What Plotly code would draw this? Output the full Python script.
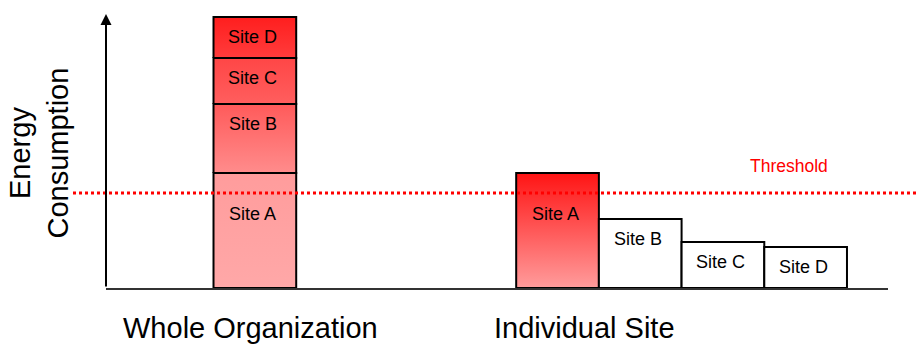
import plotly.graph_objects as go

# ---- data ----
sites = ["Site A", "Site B", "Site C", "Site D"]
consumption = [115, 69, 46, 41]
threshold = 95
group_labels = ["Whole Organization", "Individual Site"]
y_title = "Energy<br>Consumption"
threshold_label = "Threshold"

# ---- layout / style ----
whole_x = 1.80
indiv_x = [5.46, 6.46, 7.46, 8.46]
bar_w = 1.0
x_range = [0, 9.456]
y_range = [0, 274]
FONT = "Liberation Sans, Arial, sans-serif"

stack_colors = [("#ffa8a8", "#ff9c9c"), ("#ff8c8c", "#ff5a5a"),
                ("#ff5e5e", "#ff4646"), ("#ff3c3c", "#ff1e1e")]
indiv_colors = [("#ff9c9c", "#ff1414"), None, None, None]
label_shift = [-41, -20, -20, -20]

fig = go.Figure()
annotations = []


def rect(xc, y0, y1, colors):
    x0, x1 = xc - bar_w / 2, xc + bar_w / 2
    kw = dict(
        x=[x0, x0, x1, x1, x0], y=[y0, y1, y1, y0, y0],
        mode="lines", fill="toself",
        line=dict(color="black", width=2),
        hoverinfo="skip", showlegend=False,
    )
    if colors is None:
        kw["fillcolor"] = "white"
    else:
        kw["fillcolor"] = colors[1]
        kw["fillgradient"] = dict(type="vertical",
                                  colorscale=[[0, colors[0]], [1, colors[1]]])
    fig.add_trace(go.Scatter(**kw))


# whole organization stack
base = 0
for i, (s, v) in enumerate(zip(sites, consumption)):
    rect(whole_x, base, base + v, stack_colors[i])
    annotations.append(dict(x=whole_x, y=base + v, xref="x", yref="y", text=s,
                            showarrow=False, yanchor="middle", yshift=label_shift[i],
                            xshift=-2, font=dict(family=FONT, size=18, color="black")))
    base += v

# individual sites
for i, (s, v) in enumerate(zip(sites, consumption)):
    rect(indiv_x[i], 0, v, indiv_colors[i])
    annotations.append(dict(x=indiv_x[i], y=v, xref="x", yref="y", text=s,
                            showarrow=False, yanchor="middle", yshift=label_shift[i],
                            xshift=-2, font=dict(family=FONT, size=18, color="black")))

# y-axis arrow
annotations.append(dict(x=0, y=y_range[1], ax=0, ay=0, xref="x", yref="y",
                        axref="x", ayref="y", text="", showarrow=True,
                        arrowhead=2, arrowsize=1.1, arrowwidth=2, arrowcolor="black"))

# y title
annotations.append(dict(x=-0.0857, y=0.4945, xref="paper", yref="paper", text=y_title,
                        textangle=-90, showarrow=False, xanchor="center", yanchor="middle",
                        font=dict(family=FONT, size=29, color="black")))

# group labels
annotations.append(dict(x=whole_x, y=-0.147, xref="x", yref="paper", text=group_labels[0],
                        showarrow=False, xanchor="center", yanchor="middle", xshift=-4,
                        font=dict(family=FONT, size=29, color="black")))
annotations.append(dict(x=indiv_x[0], y=-0.147, xref="x", yref="paper", text=group_labels[1],
                        showarrow=False, xanchor="center", yanchor="middle", xshift=27,
                        font=dict(family=FONT, size=29, color="black")))

# threshold label
annotations.append(dict(x=0.874, y=threshold, xref="paper", yref="y", text=threshold_label,
                        showarrow=False, xanchor="center", yanchor="middle", yshift=27,
                        font=dict(family=FONT, size=17.5, color="#ff0000")))

fig.add_shape(type="line", xref="paper", yref="y", x0=-0.0422, x1=1.037,
              y0=threshold, y1=threshold, layer="above",
              line=dict(color="#ff0000", width=3, dash="dot"))

fig.update_layout(
    width=920, height=345,
    margin=dict(l=106, r=32, t=14, b=57),
    paper_bgcolor="white", plot_bgcolor="white",
    annotations=annotations,
    xaxis=dict(range=x_range, showgrid=False, zeroline=False, showticklabels=False,
               ticks="", showline=True, linecolor="#333333", linewidth=2, fixedrange=True),
    yaxis=dict(range=y_range, showgrid=False, zeroline=False, showticklabels=False,
               ticks="", showline=False, fixedrange=True),
)

fig.write_html("out.html")
